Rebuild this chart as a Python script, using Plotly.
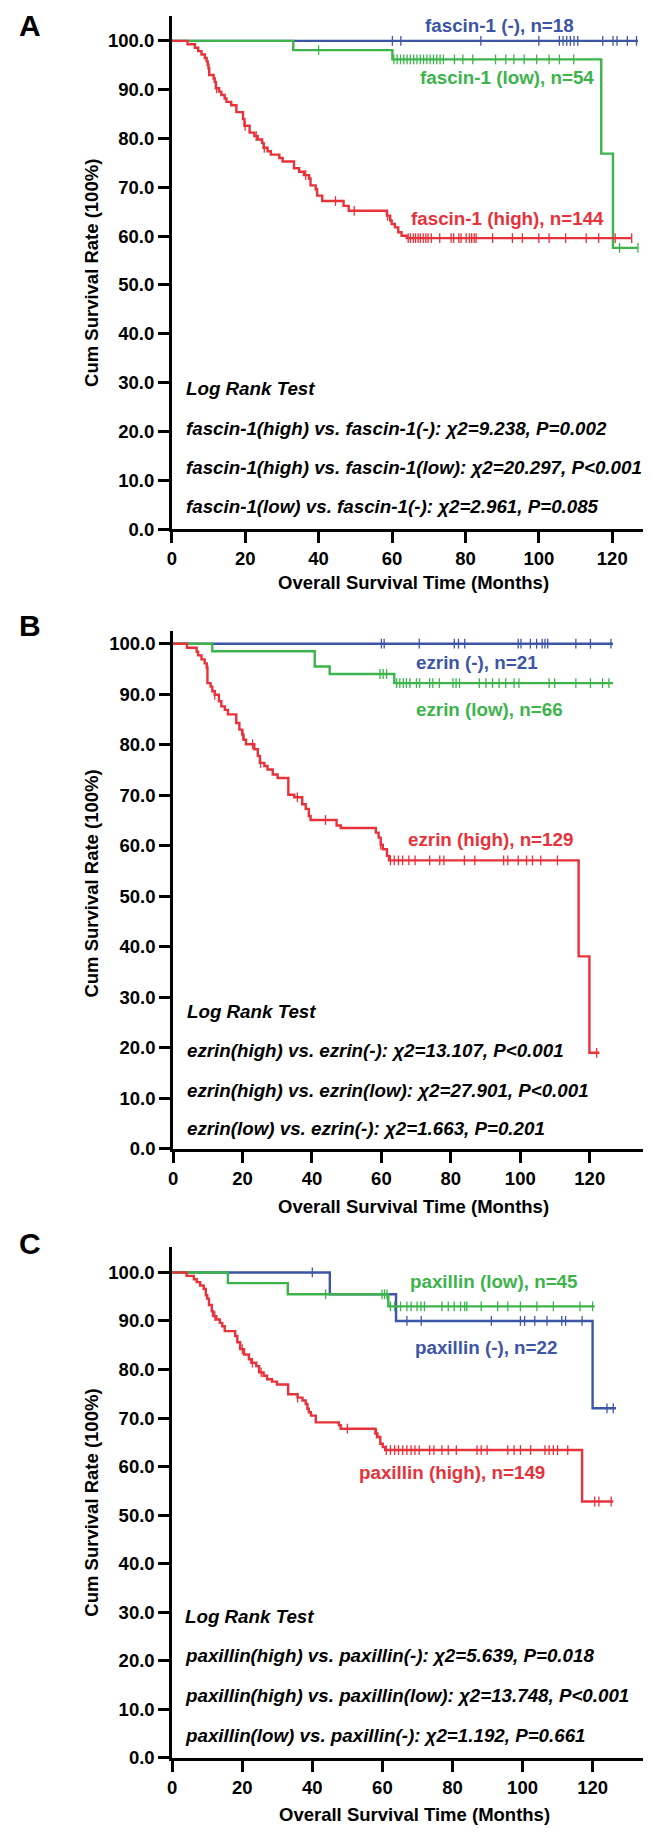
import plotly.graph_objects as go

W, H = 651, 1834
FONT = "Liberation Sans, Arial, Helvetica, sans-serif"
BLUE = "#3d55a5"
GREEN = "#3cb44b"
RED = "#e8323a"

# ---------------- Panel A : fascin-1 ----------------
a_neg_t = [0]
a_neg_s = [100.0]
a_neg_end = 127.0
a_neg_cens = [60.1, 62.4, 84.2, 100.0, 105.6, 106.6, 107.6, 108.6, 109.6, 110.6,
              117.4, 120.2, 121.3, 124.1, 126.6]

a_low_t = [0, 33.1, 60.1, 117.0, 120.2]
a_low_s = [100.0, 98.1, 96.2, 76.9, 57.6]
a_low_end = 127.0
a_low_cens = [40.0, 60.5, 61.4, 62.3, 63.2, 64.1, 65.0, 65.9, 66.8, 67.7, 68.6, 69.5,
              70.4, 71.3, 72.2, 73.1, 74.0, 77.0, 79.3, 82.0, 88.2, 91.0, 93.2, 96.0,
              99.4, 102.8, 105.6, 109.5, 122.0, 127.0]

a_high_t = [0, 4.3, 6.3, 7.2, 8.1, 9.0, 9.5, 9.8, 10.0, 10.2, 11.4, 11.7, 12.0, 12.9,
            13.5, 14.4, 14.9, 16.2, 17.6, 19.4, 19.8, 21.2, 22.5, 23.4, 24.6, 25.0,
            26.1, 27.0, 29.3, 30.2, 33.3, 34.7, 36.0, 37.4, 37.8, 39.2, 39.6, 41.0,
            46.8, 48.2, 58.6, 59.5, 59.9, 60.8, 61.7, 62.6, 64.0]
a_high_s = [100.0, 99.3, 98.6, 97.9, 97.2, 96.5, 95.8, 95.1, 94.4, 93.0, 92.3, 91.6,
            90.3, 89.6, 88.9, 88.2, 87.5, 86.8, 85.4, 84.0, 82.6, 81.2, 80.5, 79.8,
            79.1, 78.1, 77.4, 76.7, 76.0, 75.3, 73.9, 73.2, 72.5, 71.8, 70.4, 69.6,
            68.3, 67.2, 66.2, 65.2, 64.2, 63.2, 62.5, 61.8, 60.8, 60.1, 59.6]
a_high_end = 125.3
a_high_cens = [12.2, 20.0, 23.0, 25.2, 36.5, 44.6, 49.7, 58.8, 64.4, 65.0, 65.8, 66.4,
               67.1, 67.7, 68.5, 69.2, 69.8, 70.7, 73.0, 76.1, 76.8, 78.2, 78.8, 80.2,
               81.1, 81.7, 82.4, 82.9, 87.4, 92.8, 95.5, 100.0, 102.8, 107.3, 112.9,
               116.3, 120.8, 125.3]

# ---------------- Panel B : ezrin ----------------
b_neg_t = [0]
b_neg_s = [100.0]
b_neg_end = 126.7
b_neg_cens = [60.0, 60.8, 70.9, 81.0, 82.2, 84.0, 99.4, 100.2, 102.9, 104.7, 106.3,
              107.1, 107.9, 116.0, 120.2, 126.1]

b_low_t = [0, 11.3, 40.8, 45.1, 63.7]
b_low_s = [100.0, 98.5, 95.5, 94.0, 92.2]
b_low_end = 126.7
b_low_cens = [59.6, 60.5, 61.5, 64.4, 65.3, 66.3, 67.2, 68.2, 70.1, 71.0, 73.9, 74.8,
              76.7, 80.6, 81.5, 82.5, 88.2, 90.1, 92.0, 93.9, 95.8, 98.2, 99.6, 108.3,
              109.9, 116.0, 120.2, 123.7, 125.5]

b_high_t = [0, 4.0, 6.8, 7.2, 8.2, 9.1, 9.7, 9.9, 10.8, 11.3, 12.0, 13.2, 13.9, 14.9,
            15.8, 18.2, 19.1, 19.9, 20.3, 21.0, 23.4, 24.4, 25.0, 26.3, 27.2, 28.7,
            30.1, 33.2, 34.9, 37.2, 38.2, 39.1, 39.6, 47.1, 48.3, 58.4, 59.2, 59.8,
            60.4, 61.6, 62.2, 116.8, 119.9]
b_high_s = [100.0, 99.2, 98.4, 97.7, 96.9, 96.1, 95.3, 92.2, 91.5, 90.6, 89.9, 88.6,
            87.6, 86.9, 86.0, 84.3, 83.0, 82.0, 81.0, 80.1, 79.1, 77.8, 76.4, 75.8,
            75.1, 74.1, 73.4, 70.1, 69.6, 68.2, 67.3, 65.9, 65.1, 64.0, 63.5, 62.6,
            61.6, 60.2, 59.3, 58.0, 57.1, 38.1, 19.0]
b_high_end = 122.8
b_high_cens = [12.0, 20.1, 22.9, 25.2, 35.8, 43.9, 59.8, 62.6, 63.7, 64.9, 66.1, 67.9,
               69.7, 73.9, 76.8, 78.0, 83.9, 86.9, 95.2, 96.4, 99.4, 101.8, 103.5,
               105.9, 110.7, 122.0]

# ---------------- Panel C : paxillin ----------------
c_neg_t = [0, 45.0, 63.9, 120.0]
c_neg_s = [100.0, 95.5, 90.0, 72.0]
c_neg_end = 126.7
c_neg_cens = [40.0, 67.0, 71.1, 91.1, 99.4, 100.6, 103.5, 107.0, 111.2, 112.3, 117.0,
              124.1, 125.9]

c_low_t = [0, 15.9, 33.0, 61.7]
c_low_s = [100.0, 97.8, 95.5, 93.0]
c_low_end = 120.6
c_low_cens = [43.8, 59.9, 60.6, 61.3, 62.3, 63.5, 65.2, 67.0, 68.2, 69.9, 71.0, 72.0,
              77.0, 78.8, 80.5, 82.3, 83.5, 84.1, 88.2, 92.9, 95.8, 99.4, 104.1, 108.8,
              116.4, 120.0]

c_high_t = [0, 4.1, 6.2, 7.0, 8.0, 9.0, 9.6, 10.0, 10.5, 11.3, 11.7, 12.6, 13.6, 14.3,
            15.0, 18.0, 18.6, 19.4, 20.5, 21.9, 22.6, 24.0, 24.8, 26.1, 27.1, 28.5,
            29.9, 33.1, 35.8, 37.2, 38.1, 38.6, 39.0, 39.6, 41.0, 47.6, 48.1, 58.0,
            58.6, 59.4, 60.1, 60.8, 117.0]
c_high_s = [100.0, 99.3, 98.6, 98.0, 97.3, 96.6, 95.3, 94.6, 93.3, 92.0, 91.0, 90.3,
            89.6, 88.9, 87.9, 86.9, 85.6, 84.2, 83.1, 82.1, 81.4, 80.7, 79.4, 78.7,
            78.0, 77.5, 76.9, 74.9, 74.2, 73.6, 72.9, 71.9, 71.2, 70.5, 69.1, 68.5,
            67.8, 66.8, 66.1, 64.7, 64.0, 63.4, 52.8]
c_high_end = 125.9
c_high_cens = [12.2, 20.0, 22.9, 25.4, 35.8, 50.0, 58.3, 61.1, 62.3, 63.5, 64.6, 65.8,
               67.0, 68.2, 69.3, 70.5, 73.5, 74.7, 77.0, 78.8, 81.1, 87.0, 88.2, 89.9,
               95.8, 97.6, 99.4, 102.3, 106.4, 107.6, 108.8, 110.0, 112.9, 120.6, 121.8,
               125.3]

# ---------------- texts ----------------
x_ticks = [0, 20, 40, 60, 80, 100, 120]
y_ticks = [0, 10, 20, 30, 40, 50, 60, 70, 80, 90, 100]
panel_letters = ["A", "B", "C"]
y_title = "Cum Survival Rate (100%)"
x_title = "Overall Survival Time (Months)"
a_labels = ["fascin-1 (-), n=18", "fascin-1 (low), n=54", "fascin-1 (high), n=144"]
b_labels = ["ezrin (-), n=21", "ezrin (low), n=66", "ezrin (high), n=129"]
c_labels = ["paxillin (-), n=22", "paxillin (low), n=45", "paxillin (high), n=149"]
a_stats = ["Log Rank Test",
           "fascin-1(high) vs. fascin-1(-): χ2=9.238, P=0.002",
           "fascin-1(high) vs. fascin-1(low): χ2=20.297, P<0.001",
           "fascin-1(low) vs. fascin-1(-): χ2=2.961, P=0.085"]
b_stats = ["Log Rank Test",
           "ezrin(high) vs. ezrin(-): χ2=13.107, P<0.001",
           "ezrin(high) vs. ezrin(low): χ2=27.901, P<0.001",
           "ezrin(low) vs. ezrin(-): χ2=1.663, P=0.201"]
c_stats = ["Log Rank Test",
           "paxillin(high) vs. paxillin(-): χ2=5.639, P=0.018",
           "paxillin(high) vs. paxillin(low): χ2=13.748, P<0.001",
           "paxillin(low) vs. paxillin(-): χ2=1.192, P=0.661"]


def surv_at(t, times, survs):
    s = survs[0]
    for ti, si in zip(times, survs):
        if ti <= t:
            s = si
        else:
            break
    return s


def px(x):
    return x / W


def py(y):
    return 1 - y / H


panels = [
    dict(x0=160.0, x1=642.0, y0=8.0, y1=524.0, xmax=130.3, ymax=105.1,
         groups=[(a_neg_t, a_neg_s, a_neg_end, a_neg_cens, BLUE),
                 (a_low_t, a_low_s, a_low_end, a_low_cens, GREEN),
                 (a_high_t, a_high_s, a_high_end, a_high_cens, RED)],
         labels=[(a_labels[0], 490, 18, BLUE), (a_labels[1], 498, 70, GREEN),
                 (a_labels[2], 498, 212, RED)],
         stats=a_stats, sx=172.5, sy=[383, 423, 462, 501],
         letter_y=17.5, xtitle_y=578, ytitle_c=266),
    dict(x0=161.3, x1=640.0, y0=626.0, y1=1147.0, xmax=136.8, ymax=102.6,
         groups=[(b_neg_t, b_neg_s, b_neg_end, b_neg_cens, BLUE),
                 (b_low_t, b_low_s, b_low_end, b_low_cens, GREEN),
                 (b_high_t, b_high_s, b_high_end, b_high_cens, RED)],
         labels=[(b_labels[0], 468, 658, BLUE), (b_labels[1], 480, 705, GREEN),
                 (b_labels[2], 481, 836, RED)],
         stats=b_stats, sx=173.7, sy=[1009, 1048, 1088, 1127],
         letter_y=621, xtitle_y=1205, ytitle_c=880),
    dict(x0=160.4, x1=643.4, y0=1246.0, y1=1759.3, xmax=136.8, ymax=105.2,
         groups=[(c_neg_t, c_neg_s, c_neg_end, c_neg_cens, BLUE),
                 (c_low_t, c_low_s, c_low_end, c_low_cens, GREEN),
                 (c_high_t, c_high_s, c_high_end, c_high_cens, RED)],
         labels=[(c_labels[1], 485, 1280, GREEN), (c_labels[0], 477, 1347, BLUE),
                 (c_labels[2], 442, 1473, RED)],
         stats=c_stats, sx=171.7, sy=[1617, 1657, 1697, 1737],
         letter_y=1242.5, xtitle_y=1816, ytitle_c=1502.5),
]

fig = go.Figure()
layout = dict(width=W, height=H, autosize=False,
              margin=dict(l=0, r=0, t=0, b=0),
              paper_bgcolor="white", plot_bgcolor="white",
              showlegend=False, annotations=[])

tick_font = dict(family=FONT, size=18.5, color="black", weight="bold")

for i, p in enumerate(panels):
    n = "" if i == 0 else str(i + 1)
    xa, ya = "x" + n, "y" + n
    for (tt, ss, tend, cens, col) in p["groups"]:
        fig.add_trace(go.Scatter(
            x=list(tt) + [tend], y=list(ss) + [ss[-1]], mode="lines",
            line=dict(color=col, width=2.4, shape="hv"),
            xaxis=xa, yaxis=ya, hoverinfo="skip"))
        fig.add_trace(go.Scatter(
            x=cens, y=[surv_at(c, tt, ss) for c in cens], mode="markers",
            marker=dict(symbol="line-ns-open", size=7, color=col,
                        line=dict(color=col, width=1.3)),
            xaxis=xa, yaxis=ya, hoverinfo="skip", cliponaxis=False))
    layout["xaxis" + n] = dict(
        domain=[px(p["x0"]), px(p["x1"])], range=[0, p["xmax"]], anchor=ya,
        showline=True, linecolor="black", linewidth=2.7, mirror=False,
        ticks="outside", ticklen=11, tickwidth=2.5, tickcolor="black",
        tickvals=x_ticks, ticktext=[str(v) for v in x_ticks],
        tickfont=tick_font, showgrid=False, zeroline=False, fixedrange=True)
    layout["yaxis" + n] = dict(
        domain=[py(p["y1"]), py(p["y0"])], range=[0, p["ymax"]], anchor=xa,
        showline=True, linecolor="black", linewidth=2.7,
        ticks="outside", ticklen=11, tickwidth=2.5, tickcolor="black",
        tickvals=y_ticks, ticktext=[f"{v:.1f}" for v in y_ticks],
        tickfont=tick_font, showgrid=False, zeroline=False, fixedrange=True)

    ann = layout["annotations"]
    ann.append(dict(text="<b>" + panel_letters[i] + "</b>", x=px(17), y=py(p["letter_y"]),
                    xref="paper", yref="paper", xanchor="center", yanchor="middle",
                    showarrow=False, font=dict(family=FONT, size=30, color="black")))
    ann.append(dict(text="<b>" + x_title + "</b>", x=px((p["x0"] + p["x1"]) / 2 + 3),
                    y=py(p["xtitle_y"]), xref="paper", yref="paper",
                    xanchor="center", yanchor="middle", showarrow=False,
                    font=dict(family=FONT, size=18.5, color="black")))
    ann.append(dict(text="<b>" + y_title + "</b>", x=px(79), y=py(p["ytitle_c"]),
                    xref="paper", yref="paper", xanchor="center", yanchor="middle",
                    textangle=-90, showarrow=False,
                    font=dict(family=FONT, size=18.5, color="black")))
    for (txt, cx, cy, col) in p["labels"]:
        ann.append(dict(text="<b>" + txt + "</b>", x=px(cx), y=py(cy),
                        xref="paper", yref="paper", xanchor="center", yanchor="middle",
                        showarrow=False, font=dict(family=FONT, size=18.8, color=col)))
    for txt, yy in zip(p["stats"], p["sy"]):
        ann.append(dict(text="<b><i>" + txt + "</i></b>", x=px(p["sx"]), y=py(yy),
                        xref="paper", yref="paper", xanchor="left", yanchor="middle",
                        showarrow=False, font=dict(family=FONT, size=18.75, color="black")))

fig.update_layout(**layout)
fig.write_html("out.html")
